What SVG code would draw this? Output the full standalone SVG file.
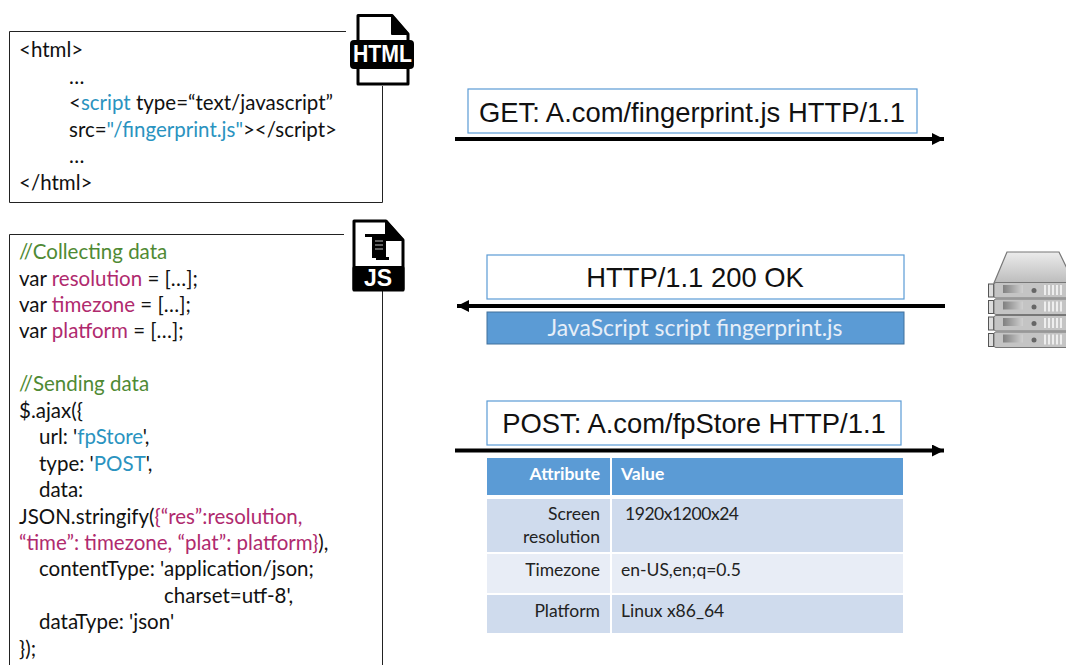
<svg xmlns="http://www.w3.org/2000/svg" width="1066" height="665" viewBox="0 0 1066 665">
<style>
.c{font-family:Lato,"Open Sans",sans-serif;font-size:20.5px;fill:#111}
.t{font-family:Lato,"Open Sans",sans-serif;font-size:17.5px;fill:#222}
.h{font-family:"Liberation Sans",Arial,sans-serif;font-size:27.4px;fill:#111;text-anchor:middle}
.b{fill:#2a93c0}.m{fill:#b02a6e}.g{fill:#4f8a34}
.box{fill:#fff;stroke:#5b9bd5;stroke-width:1.2}
.wire{stroke:#000;stroke-width:4;fill:none}
.r{text-anchor:end}
</style>
<defs>
<marker id="a" markerUnits="userSpaceOnUse" markerWidth="14" markerHeight="14" refX="12" refY="6" orient="auto"><path d="M0 0L12 6L0 12Z" fill="#000"/></marker>
<linearGradient id="sv" x1="0" y1="0" x2="0" y2="1"><stop offset="0" stop-color="#ececec"/><stop offset="1" stop-color="#bcbcbc"/></linearGradient>
<linearGradient id="sl" x1="0" y1="0" x2="1" y2="0"><stop offset="0" stop-color="#808080"/><stop offset="1" stop-color="#d0d0d0"/></linearGradient>
<g id="unit">
<rect x="988.500" y="0" width="5" height="13" fill="#ddd" stroke="#555"/>
<rect x="994" y="-1.500" width="80" height="15.500" rx="2" fill="#c4c4c4" stroke="#777"/>
<rect x="1003" y="1" width="20" height="8" fill="url(#sl)"/>
<circle cx="1034" cy="6.500" r="2.500" fill="#666"/>
<path d="M1045 1v10M1049 1v10M1053 1v10M1057 1v10M1061 1v10" stroke="#eee" stroke-width="2"/>
</g>
</defs>

<g id="html-code">
<path d="M346 31.500H9.500V202.500H382.500V86" fill="#fff" stroke="#222" stroke-width="1"/>
<text class="c" x="19" y="57">&lt;html&gt;</text>
<text class="c" x="69" y="84">…</text>
<text class="c" x="69" y="110">&lt;<tspan class="b">script</tspan> type=“text/javascript”</text>
<text class="c" x="69" y="137">src=<tspan class="b">"/fingerprint.js"</tspan>&gt;&lt;/script&gt;</text>
<text class="c" x="69" y="163">…</text>
<text class="c" x="19" y="190">&lt;/html&gt;</text>
</g>

<g id="html-icon">
<path d="M358 15.500H392L408 34V84H358Z" fill="#fff" stroke="#000" stroke-width="3" stroke-linejoin="round"/>
<path d="M392 15.500L408 34H392Z" fill="#000" stroke="#000" stroke-width="2" stroke-linejoin="round"/>
<rect x="350" y="40" width="64" height="29" rx="4" fill="#000"/>
<text x="382.500" y="62" font-family="'Liberation Sans',Arial,sans-serif" font-weight="700" font-size="24" fill="#fff" text-anchor="middle" textLength="59" lengthAdjust="spacingAndGlyphs">HTML</text>
</g>

<g id="js-code">
<path d="M344 234.500H9.500V665.500M382.500 291V665.500" fill="none" stroke="#222" stroke-width="1"/>
<text class="c" x="19" y="259"><tspan class="g">//Collecting data</tspan></text>
<text class="c" x="19" y="286">var <tspan class="m">resolution</tspan> = […];</text>
<text class="c" x="19" y="312">var <tspan class="m">timezone</tspan> = […];</text>
<text class="c" x="19" y="338">var <tspan class="m">platform</tspan> = […];</text>
<text class="c" x="19" y="391"><tspan class="g">//Sending data</tspan></text>
<text class="c" x="19" y="418">$.ajax({</text>
<text class="c" x="39" y="444">url: '<tspan class="b">fpStore</tspan>',</text>
<text class="c" x="39" y="471">type: '<tspan class="b">POST</tspan>',</text>
<text class="c" x="39" y="497">data:</text>
<text class="c" x="19" y="524">JSON.stringify(<tspan class="m">{“res”:resolution,</tspan></text>
<text class="c" x="19" y="550"><tspan class="m">“time”: timezone, “plat”: platform}</tspan>),</text>
<text class="c" x="39" y="576">contentType: 'application/json;</text>
<text class="c" x="164" y="603">charset=utf-8',</text>
<text class="c" x="39" y="629">dataType: 'json'</text>
<text class="c" x="19" y="656">});</text>
</g>

<g id="js-icon">
<path d="M354 221H386L403 240V290H354Z" fill="#fff" stroke="#000" stroke-width="3" stroke-linejoin="round"/>
<path d="M386 221L403 240H386Z" fill="#000" stroke="#000" stroke-width="2" stroke-linejoin="round"/>
<rect x="352.500" y="266" width="52" height="25" rx="2" fill="#000"/>
<path d="M372 234H386V258H372Z" fill="#000"/>
<path d="M365 234H372V237H365ZM376 257H389V260H376Z" fill="#000"/>
<path d="M375 241H383M375 245H383M375 249H383" stroke="#bbb" stroke-width="1.200"/>
<text x="378" y="286" font-family="'Liberation Sans',Arial,sans-serif" font-weight="700" font-size="23" fill="#fff" text-anchor="middle">JS</text>
</g>

<g id="connectors">
<path class="wire" d="M455 139H944" marker-end="url(#a)"/>
<path class="wire" d="M945 306H457" marker-end="url(#a)"/>
<path class="wire" d="M455 450.500H944" marker-end="url(#a)"/>
</g>

<g id="get-label">
<rect class="box" x="468" y="89" width="449" height="44"/>
<text class="h" x="692" y="122">GET: A.com/fingerprint.js HTTP/1.1</text>
</g>
<g id="ok-label">
<rect class="box" x="487" y="255" width="417" height="44"/>
<text class="h" x="695" y="287">HTTP/1.1 200 OK</text>
</g>
<g id="js-label">
<rect x="487" y="312" width="417" height="32" fill="#5b9bd5" stroke="#41719c" stroke-width="1"/>
<text x="695" y="336" font-family="Lato,sans-serif" font-size="23" fill="#e6eef8" text-anchor="middle" textLength="295" lengthAdjust="spacingAndGlyphs">JavaScript script fingerprint.js</text>
</g>
<g id="post-label">
<rect class="box" x="487" y="401" width="414" height="44"/>
<text class="h" x="694" y="433">POST: A.com/fpStore HTTP/1.1</text>
</g>

<g id="table">
<rect x="487" y="458" width="123" height="37" fill="#5b9bd5"/>
<rect x="612" y="458" width="291" height="37" fill="#5b9bd5"/>
<rect x="487" y="499" width="123" height="53" fill="#cfdbed"/>
<rect x="612" y="499" width="291" height="53" fill="#cfdbed"/>
<rect x="487" y="554" width="123" height="39" fill="#e8edf6"/>
<rect x="612" y="554" width="291" height="39" fill="#e8edf6"/>
<rect x="487" y="595" width="123" height="38" fill="#cfdbed"/>
<rect x="612" y="595" width="291" height="38" fill="#cfdbed"/>
<text class="t r" x="600" y="480" style="fill:#fff;font-weight:700">Attribute</text>
<text class="t" x="621" y="480" style="fill:#fff;font-weight:700">Value</text>
<text class="t r" x="600" y="520">Screen</text>
<text class="t r" x="600" y="543">resolution</text>
<text class="t" x="625" y="520" textLength="114">1920x1200x24</text>
<text class="t r" x="600" y="576">Timezone</text>
<text class="t" x="621" y="576">en-US,en;q=0.5</text>
<text class="t r" x="600" y="617">Platform</text>
<text class="t" x="621" y="617">Linux x86_64</text>
</g>

<g id="server">
<path d="M994 283L1007 252H1059L1074 283Z" fill="url(#sv)" stroke="#777" stroke-width="1.200"/>
<use href="#unit" y="284"/>
<use href="#unit" y="300.500"/>
<use href="#unit" y="317"/>
<use href="#unit" y="333.500"/>
</g>
</svg>
